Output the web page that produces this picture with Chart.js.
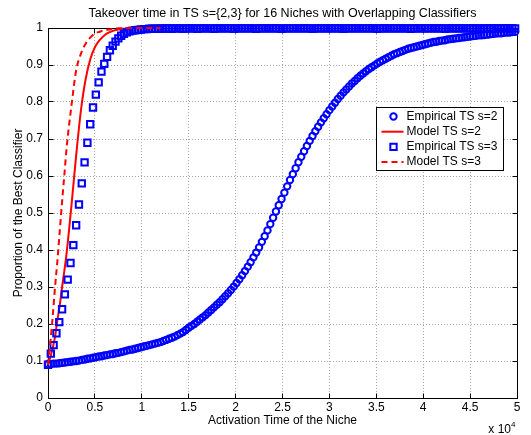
<!DOCTYPE html>
<html lang="en">
<head>
<meta charset="UTF-8">
<title>Takeover time in TS</title>
<script src="https://cdn.jsdelivr.net/npm/chart.js"></script>
<style>
  html, body { margin: 0; padding: 0; background: #fff; }
</style>
</head>
<body>
<canvas id="chart" width="531" height="435"></canvas>
<script>
const chartTitle = 'Takeover time in TS s={2,3} for 16 Niches with Overlapping Classifiers';
const xTitle = 'Activation Time of the Niche';
const yTitle = 'Proportion of the Best Classifier';
const seriesNames = ['Empirical TS s=2', 'Model TS s=2', 'Empirical TS s=3', 'Model TS s=3'];

// empirical runs logged every 300 activations: x = 0, 300, ..., 49800
const sampleStep = 300;

const empiricalS2 = [
  0.092, 0.092, 0.093, 0.093, 0.094, 0.095, 0.096, 0.097, 0.098, 0.099,
  0.100, 0.101, 0.103, 0.104, 0.106, 0.107, 0.109, 0.110, 0.112, 0.113,
  0.115, 0.116, 0.118, 0.119, 0.121, 0.122, 0.124, 0.126, 0.128, 0.130,
  0.131, 0.133, 0.135, 0.137, 0.139, 0.141, 0.143, 0.145, 0.147, 0.149,
  0.151, 0.154, 0.157, 0.160, 0.163, 0.166, 0.170, 0.174, 0.178, 0.184,
  0.190, 0.195, 0.200, 0.206, 0.212, 0.218, 0.224, 0.231, 0.238, 0.245,
  0.252, 0.259, 0.267, 0.275, 0.283, 0.292, 0.301, 0.311, 0.321, 0.332,
  0.343, 0.355, 0.367, 0.380, 0.393, 0.407, 0.422, 0.437, 0.453, 0.470,
  0.487, 0.504, 0.521, 0.538, 0.555, 0.572, 0.589, 0.605, 0.621, 0.637,
  0.652, 0.667, 0.681, 0.695, 0.708, 0.721, 0.733, 0.745, 0.756, 0.767,
  0.778, 0.788, 0.798, 0.808, 0.817, 0.826, 0.834, 0.842, 0.850, 0.857,
  0.864, 0.871, 0.877, 0.883, 0.889, 0.894, 0.899, 0.904, 0.909, 0.913,
  0.917, 0.921, 0.925, 0.929, 0.932, 0.935, 0.938, 0.941, 0.944, 0.946,
  0.948, 0.950, 0.952, 0.954, 0.956, 0.958, 0.960, 0.962, 0.963, 0.965,
  0.966, 0.967, 0.969, 0.970, 0.971, 0.972, 0.973, 0.974, 0.975, 0.976,
  0.977, 0.978, 0.979, 0.980, 0.980, 0.981, 0.982, 0.983, 0.984, 0.985,
  0.986, 0.986, 0.987, 0.988, 0.988, 0.989, 0.990
];

const empiricalS3 = [
  0.090, 0.120, 0.143, 0.175, 0.205, 0.240, 0.280, 0.320, 0.365, 0.413,
  0.467, 0.523, 0.580, 0.637, 0.690, 0.740, 0.785, 0.820, 0.853, 0.882,
  0.903, 0.922, 0.940, 0.952, 0.963, 0.972, 0.979, 0.984, 0.988, 0.991,
  0.993, 0.994, 0.995, 0.996, 0.997, 0.997, 0.998, 0.998, 0.998, 0.998,
  0.999, 0.998, 0.999, 0.999, 0.998, 0.999, 0.999, 0.999, 0.998, 0.999,
  0.999, 0.999, 0.999, 0.998, 0.999, 0.999, 0.999, 0.999, 0.999, 0.998,
  0.999, 0.999, 0.999, 0.999, 0.999, 0.999, 0.998, 0.999, 0.999, 0.999,
  0.999, 0.999, 0.999, 0.999, 0.998, 0.999, 0.999, 0.999, 0.999, 0.999,
  0.999, 0.999, 0.999, 0.998, 0.999, 0.999, 0.999, 0.999, 0.999, 0.999,
  0.999, 0.999, 0.999, 0.999, 0.998, 0.999, 0.999, 0.999, 0.999, 0.999,
  0.999, 0.999, 0.999, 0.999, 0.999, 0.998, 0.999, 0.999, 0.999, 0.999,
  0.999, 0.999, 0.999, 0.999, 0.999, 0.999, 0.999, 0.998, 0.999, 0.999,
  0.999, 0.999, 0.999, 0.999, 0.999, 0.999, 0.999, 0.999, 0.999, 0.998,
  0.999, 0.999, 0.999, 0.999, 0.999, 0.999, 0.999, 0.999, 0.999, 0.999,
  0.999, 0.998, 0.999, 0.999, 0.999, 0.999, 0.999, 0.999, 0.999, 0.999,
  0.999, 0.999, 0.999, 0.999, 0.998, 0.999, 0.999, 0.999, 0.999, 0.999,
  0.999, 0.999, 0.999, 0.999, 0.999, 0.999, 0.999
];

// model curves
const modelX  = [0, 250, 500, 750, 1000, 1250, 1500, 1750, 2000, 2500, 3000, 3500, 4000,
                 4500, 5000, 5500, 6000, 6500, 7000, 7500, 8000, 9000, 10000, 11000, 12000];
const modelS2 = [0.09, 0.11, 0.135, 0.165, 0.21, 0.25, 0.30, 0.345, 0.395, 0.52, 0.655, 0.775, 0.86,
                 0.915, 0.948, 0.967, 0.98, 0.988, 0.993, 0.996, 0.998, 0.999, 1, 1, 1];
const modelS3 = [0.09, 0.15, 0.22, 0.30, 0.37, 0.45, 0.53, 0.605, 0.68, 0.79, 0.885, 0.93, 0.957,
                 0.974, 0.985, 0.99, 0.994, 0.996, 0.998, 0.999, 0.999, 1, 1, 1, 1];

const xTicksStep = 5000;
const yTicksStep = 0.1;

const FONT = "'Liberation Sans', Arial, sans-serif";
const FSIZE = 12;
const BLUE = '#0000ff';
const RED = '#ff0000';

const toPoints = (ys) => ys.map((y, i) => ({ x: i * sampleStep, y: y }));
const modelPoints = (ys) => modelX.map((x, i) => ({ x: x, y: ys[i] }));

// axes box, inward ticks, title, exponent label and legend in the MATLAB look
const matlabFrame = {
    id: 'matlabFrame',
    beforeDatasetsDraw(chart) {
        const { ctx, chartArea: ca, scales } = chart;
        const L = Math.floor(ca.left) + 0.5, R = Math.floor(ca.right) + 0.5;
        const T = Math.floor(ca.top) + 0.5, B = Math.floor(ca.bottom) + 0.5;
        ctx.save();
        ctx.strokeStyle = '#000';
        ctx.lineWidth = 1;
        ctx.strokeRect(L, T, R - L, B - T);
        ctx.beginPath();
        scales.x.ticks.forEach(t => {
            const px = Math.floor(scales.x.getPixelForValue(t.value)) + 0.5;
            ctx.moveTo(px, B); ctx.lineTo(px, B - 5);
            ctx.moveTo(px, T); ctx.lineTo(px, T + 5);
        });
        scales.y.ticks.forEach(t => {
            const py = Math.floor(scales.y.getPixelForValue(t.value)) + 0.5;
            ctx.moveTo(L, py); ctx.lineTo(L + 5, py);
            ctx.moveTo(R, py); ctx.lineTo(R - 5, py);
        });
        ctx.stroke();
        ctx.restore();
    },
    afterDraw(chart) {
        const { ctx, chartArea: ca } = chart;
        ctx.save();
        ctx.fillStyle = '#000';
        ctx.font = '12.5px ' + FONT;
        ctx.textAlign = 'center';
        ctx.textBaseline = 'middle';
        ctx.fillText(chartTitle, (ca.left + ca.right) / 2, 14);

        // x 10^4
        ctx.font = FSIZE + 'px ' + FONT;
        ctx.textAlign = 'right';
        ctx.fillText('x 10', ca.right - 6, 430);
        ctx.font = '8px ' + FONT;
        ctx.textAlign = 'left';
        ctx.fillText('4', ca.right - 6, 425);

        // legend
        const bx = Math.floor(ca.right) - 141 + 0.5, by = 107.5, bw = 127, bh = 63;
        ctx.fillStyle = '#fff';
        ctx.fillRect(bx, by, bw, bh);
        ctx.strokeStyle = '#000';
        ctx.lineWidth = 1;
        ctx.strokeRect(bx, by, bw, bh);
        ctx.font = FSIZE + 'px ' + FONT;
        ctx.textAlign = 'left';
        ctx.textBaseline = 'middle';
        chart.data.datasets.forEach((ds, i) => {
            const cy = by + 9 + i * 15.2;
            const sx0 = bx + 5, sx1 = bx + 27, cx = bx + 17;
            ctx.setLineDash([]);
            if (ds.showLine) {
                ctx.strokeStyle = ds.borderColor;
                ctx.lineWidth = ds.borderWidth;
                ctx.setLineDash(ds.borderDash || []);
                ctx.beginPath();
                ctx.moveTo(sx0, cy); ctx.lineTo(sx1, cy);
                ctx.stroke();
            } else {
                ctx.strokeStyle = ds.pointBorderColor;
                ctx.lineWidth = ds.pointBorderWidth;
                ctx.beginPath();
                if (ds.pointStyle === 'rect') {
                    const s = ds.pointRadius * Math.SQRT1_2;
                    ctx.rect(cx - s, cy - s, 2 * s, 2 * s);
                } else {
                    ctx.arc(cx, cy, ds.pointRadius, 0, Math.PI * 2);
                }
                ctx.stroke();
            }
            ctx.setLineDash([]);
            ctx.fillStyle = '#000';
            ctx.fillText(ds.label, bx + 30, cy);
        });
        ctx.restore();
    }
};

const ctx = document.getElementById('chart').getContext('2d');
new Chart(ctx, {
    type: 'scatter',
    data: {
        datasets: [{
            label: seriesNames[0],
            data: toPoints(empiricalS2),
            showLine: false,
            pointStyle: 'circle',
            pointRadius: 3.2,
            pointBorderWidth: 2,
            pointBorderColor: BLUE,
            pointBackgroundColor: 'rgba(0,0,0,0)',
            borderColor: BLUE,
            clip: false,
            order: 4
        }, {
            label: seriesNames[1],
            data: modelPoints(modelS2),
            showLine: true,
            pointRadius: 0,
            borderColor: RED,
            borderWidth: 2,
            cubicInterpolationMode: 'monotone',
            clip: false,
            order: 3
        }, {
            label: seriesNames[2],
            data: toPoints(empiricalS3),
            showLine: false,
            pointStyle: 'rect',
            pointRadius: 4.5,
            pointBorderWidth: 2,
            pointBorderColor: BLUE,
            pointBackgroundColor: 'rgba(0,0,0,0)',
            borderColor: BLUE,
            clip: false,
            order: 2
        }, {
            label: seriesNames[3],
            data: modelPoints(modelS3),
            showLine: true,
            pointRadius: 0,
            borderColor: RED,
            borderWidth: 2,
            borderDash: [6, 4],
            cubicInterpolationMode: 'monotone',
            clip: false,
            order: 1
        }]
    },
    options: {
        responsive: false,
        animation: false,
        events: [],
        devicePixelRatio: 1,
        layout: { padding: { top: 28, right: 14, bottom: 0, left: 0 } },
        plugins: {
            legend: { display: false },
            title: { display: false },
            tooltip: { enabled: false }
        },
        scales: {
            x: {
                type: 'linear',
                min: 0,
                max: 50000,
                afterFit: (s) => { s.height = 37; },
                ticks: {
                    stepSize: xTicksStep,
                    autoSkip: false,
                    maxRotation: 0,
                    padding: 2,
                    color: '#000',
                    font: { family: FONT, size: FSIZE },
                    callback: (v) => String(v / 10000)
                },
                grid: { color: '#a6a6a6', drawTicks: false, lineWidth: 1 },
                border: { display: false, dash: [1, 2] },
                title: {
                    display: true,
                    text: xTitle,
                    color: '#000',
                    font: { family: FONT, size: FSIZE },
                    padding: { top: 0, bottom: 7 }
                }
            },
            y: {
                type: 'linear',
                min: 0,
                max: 1,
                afterFit: (s) => { s.width = 48; },
                ticks: {
                    stepSize: yTicksStep,
                    autoSkip: false,
                    padding: 5,
                    color: '#000',
                    font: { family: FONT, size: FSIZE },
                    callback: (v) => (v === 0 || v === 1) ? String(v) : v.toFixed(1)
                },
                grid: { color: '#a6a6a6', drawTicks: false, lineWidth: 1 },
                border: { display: false, dash: [1, 2] },
                title: {
                    display: true,
                    text: yTitle,
                    color: '#000',
                    font: { family: FONT, size: FSIZE },
                    padding: { top: 11, bottom: 0 }
                }
            }
        }
    },
    plugins: [matlabFrame]
});
</script>
</body>
</html>
